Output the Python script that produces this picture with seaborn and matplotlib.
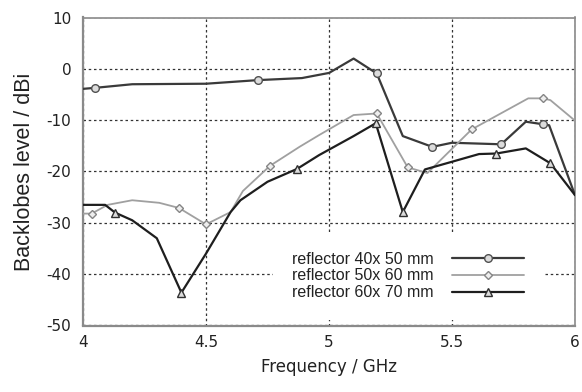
import matplotlib
matplotlib.use("Agg")
import matplotlib.pyplot as plt
import seaborn as sns
import pandas as pd

# ---- data ----
s1_x = [4.0, 4.05, 4.2, 4.5, 4.71, 4.89, 5.0, 5.10, 5.194, 5.30, 5.42, 5.50, 5.70, 5.80, 5.87, 5.895, 6.0]
s1_y = [-3.9, -3.7, -3.0, -2.9, -2.2, -1.8, -0.8, 2.0, -0.9, -13.1, -15.2, -14.4, -14.7, -10.3, -10.8, -11.0, -24.6]
s1_marks = [1, 4, 8, 10, 12, 14]

s2_x = [4.0, 4.035, 4.1, 4.2, 4.31, 4.39, 4.5, 4.6, 4.65, 4.76, 4.88, 4.96, 5.10, 5.194, 5.32, 5.40, 5.58, 5.81, 5.87, 5.90, 6.0]
s2_y = [-28.2, -28.2, -26.5, -25.6, -26.1, -27.1, -30.3, -27.9, -23.8, -18.9, -15.2, -12.9, -9.0, -8.7, -19.2, -20.3, -11.8, -5.75, -5.75, -6.1, -10.1]
s2_marks = [1, 5, 6, 9, 13, 14, 16, 18]

s3_x = [4.0, 4.09, 4.13, 4.2, 4.3, 4.40, 4.5, 4.6, 4.64, 4.75, 4.87, 4.96, 5.10, 5.19, 5.30, 5.39, 5.61, 5.68, 5.80, 5.90, 6.0]
s3_y = [-26.5, -26.5, -28.0, -29.5, -33.0, -43.6, -36.0, -27.9, -25.6, -22.0, -19.5, -16.8, -13.1, -10.6, -27.9, -19.6, -16.6, -16.5, -15.5, -18.4, -24.6]
s3_marks = [2, 5, 10, 13, 14, 17, 19]

labels = ["reflector 40x 50 mm", "reflector 50x 60 mm", "reflector 60x 70 mm"]
x_ticks = [4, 4.5, 5, 5.5, 6]
x_tick_labels = ["4", "4.5", "5", "5.5", "6"]
y_ticks = [10, 0, -10, -20, -30, -40, -50]

sns.set_style("white")
plt.rcParams["font.family"] = ["DejaVu Sans"]
plt.rcParams["axes.unicode_minus"] = False

fig = plt.figure(figsize=(5.82, 3.92), dpi=100)
ax = fig.add_axes([83 / 582, 1 - 325.5 / 392, (575 - 83) / 582, (325.5 - 17.5) / 392])

series = [
    (s1_x, s1_y, s1_marks, dict(color="#3a3a3a", lw=1.6, marker="o", ms=5.5, mfc="#dcdcdc", mec="#505050", mew=1.0)),
    (s2_x, s2_y, s2_marks, dict(color="#a0a0a0", lw=1.3, marker="D", ms=3.8, mfc="#eeeeee", mec="#858585", mew=1.0)),
    (s3_x, s3_y, s3_marks, dict(color="#1e1e1e", lw=1.6, marker="^", ms=5.2, mfc="#dcdcdc", mec="#303030", mew=1.0)),
]
for (xs, ys, marks, st), lab in zip(series, labels):
    df = pd.DataFrame({"f": xs, "v": ys})
    sns.lineplot(data=df, x="f", y="v", ax=ax, sort=False, estimator=None,
                 label=lab, markevery=marks, zorder=3, **st)

ax.set_xlim(4, 6)
ax.set_ylim(-50, 10)
ax.set_xticks(x_ticks)
ax.set_xticklabels(x_tick_labels)
ax.set_yticks(y_ticks)
ax.tick_params(axis="both", labelsize=11, colors="#222222", length=5, width=1.0, direction="out")
ax.tick_params(axis="both", color="#888888")
ax.tick_params(axis="x", length=3)
ax.grid(True, linestyle=(0, (2, 2.2)), color="#333333", linewidth=0.9)

for side in ["left", "bottom"]:
    ax.spines[side].set_color("#8a8a8a")
    ax.spines[side].set_linewidth(1.6)
for side in ["top", "right"]:
    ax.spines[side].set_color("#8a8a8a")
    ax.spines[side].set_linewidth(1.2)
    ax.spines[side].set_visible(True)

ax.set_xlabel("Frequency / GHz", fontsize=12, color="#222222", labelpad=6)
ax.set_ylabel("Backlobes level / dBi", fontsize=15.5, color="#222222",
              family=["Liberation Sans"], labelpad=8)

leg = ax.legend(loc="center", bbox_to_anchor=(408 / 582, 1 - 276 / 392),
                bbox_transform=fig.transFigure, markerfirst=False,
                prop={"family": "Liberation Sans", "size": 11.5},
                handlelength=4.5, handletextpad=1.2, labelspacing=0.12,
                borderpad=1.2, frameon=True, fancybox=False)
leg.get_frame().set_facecolor("white")
leg.get_frame().set_edgecolor("none")
leg.get_frame().set_alpha(1.0)
leg.set_zorder(5)
for t in leg.get_texts():
    t.set_color("#222222")

fig.savefig("out.png", dpi=100)
